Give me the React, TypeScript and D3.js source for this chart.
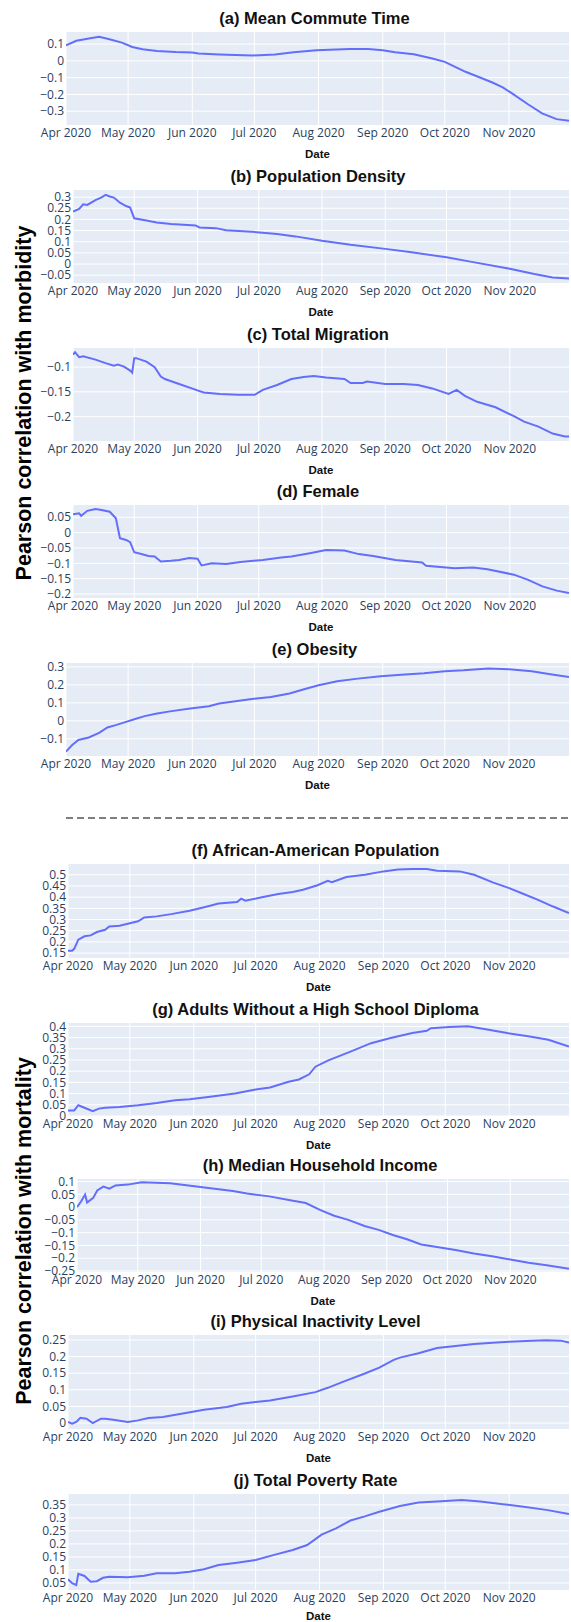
import * as d3 from 'd3'

// month ticks and the shared date range of every panel
const monthTicks = ['2020-04-01', '2020-05-01', '2020-06-01', '2020-07-01', '2020-08-01', '2020-09-01', '2020-10-01', '2020-11-01']
const dateRange = ['2020-04-01', '2020-11-30']

// (a) Mean Commute Time
const meanCommute: [string, number][] = [
  ['2020-04-01', 0.093], ['2020-04-06', 0.12], ['2020-04-12', 0.133], ['2020-04-17', 0.143], ['2020-04-22', 0.129],
  ['2020-04-28', 0.109], ['2020-05-03', 0.083], ['2020-05-08', 0.069], ['2020-05-15', 0.059], ['2020-05-24', 0.053],
  ['2020-06-01', 0.05], ['2020-06-04', 0.044], ['2020-06-14', 0.038], ['2020-06-30', 0.032], ['2020-07-11', 0.038],
  ['2020-07-20', 0.051], ['2020-07-31', 0.063], ['2020-08-16', 0.071], ['2020-08-25', 0.071], ['2020-09-01', 0.063],
  ['2020-09-07', 0.051], ['2020-09-16', 0.04], ['2020-09-25', 0.014], ['2020-10-01', -0.006], ['2020-10-06', -0.036],
  ['2020-10-11', -0.065], ['2020-10-18', -0.099], ['2020-10-24', -0.129], ['2020-10-29', -0.158], ['2020-11-03', -0.198],
  ['2020-11-10', -0.257], ['2020-11-17', -0.313], ['2020-11-24', -0.347], ['2020-11-30', -0.356]
]

// (b) Population Density
const popDensity: [string, number][] = [
  ['2020-04-01', 0.235], ['2020-04-04', 0.247], ['2020-04-06', 0.268], ['2020-04-08', 0.265], ['2020-04-12', 0.287],
  ['2020-04-15', 0.299], ['2020-04-17', 0.31], ['2020-04-19', 0.303], ['2020-04-21', 0.298], ['2020-04-24', 0.275],
  ['2020-04-27', 0.26], ['2020-04-29', 0.253], ['2020-05-01', 0.205], ['2020-05-07', 0.195], ['2020-05-12', 0.186],
  ['2020-05-19', 0.18], ['2020-05-31', 0.173], ['2020-06-02', 0.164], ['2020-06-10', 0.161], ['2020-06-15', 0.152],
  ['2020-06-30', 0.143], ['2020-07-10', 0.135], ['2020-07-19', 0.124], ['2020-08-01', 0.104], ['2020-08-15', 0.086],
  ['2020-09-01', 0.068], ['2020-09-13', 0.054], ['2020-10-01', 0.03], ['2020-10-12', 0.012], ['2020-11-01', -0.021],
  ['2020-11-13', -0.045], ['2020-11-22', -0.06], ['2020-11-30', -0.065]
]

// (c) Total Migration
const totalMigration: [string, number][] = [
  ['2020-04-01', -0.075], ['2020-04-02', -0.07], ['2020-04-04', -0.08], ['2020-04-06', -0.078], ['2020-04-12', -0.085],
  ['2020-04-17', -0.092], ['2020-04-21', -0.097], ['2020-04-23', -0.095], ['2020-04-26', -0.099], ['2020-04-29', -0.107],
  ['2020-04-30', -0.111], ['2020-05-01', -0.082], ['2020-05-02', -0.082], ['2020-05-07', -0.089], ['2020-05-11', -0.1],
  ['2020-05-14', -0.119], ['2020-05-16', -0.124], ['2020-05-23', -0.134], ['2020-06-01', -0.147], ['2020-06-04', -0.151],
  ['2020-06-12', -0.154], ['2020-06-21', -0.156], ['2020-06-29', -0.156], ['2020-07-03', -0.146], ['2020-07-10', -0.136],
  ['2020-07-17', -0.124], ['2020-07-23', -0.12], ['2020-07-28', -0.118], ['2020-08-03', -0.121], ['2020-08-12', -0.124],
  ['2020-08-15', -0.132], ['2020-08-21', -0.132], ['2020-08-23', -0.129], ['2020-09-01', -0.134], ['2020-09-10', -0.134],
  ['2020-09-17', -0.136], ['2020-09-24', -0.143], ['2020-10-02', -0.154], ['2020-10-06', -0.146], ['2020-10-10', -0.158],
  ['2020-10-16', -0.17], ['2020-10-25', -0.181], ['2020-11-03', -0.199], ['2020-11-08', -0.21], ['2020-11-15', -0.22],
  ['2020-11-22', -0.234], ['2020-11-28', -0.24], ['2020-11-30', -0.24]
]

// (d) Female
const female: [string, number][] = [
  ['2020-04-01', 0.06], ['2020-04-04', 0.063], ['2020-04-05', 0.055], ['2020-04-08', 0.071], ['2020-04-12', 0.077],
  ['2020-04-15', 0.074], ['2020-04-19', 0.068], ['2020-04-22', 0.047], ['2020-04-24', -0.018], ['2020-04-27', -0.024],
  ['2020-04-29', -0.031], ['2020-05-01', -0.064], ['2020-05-04', -0.069], ['2020-05-08', -0.076], ['2020-05-11', -0.078],
  ['2020-05-14', -0.094], ['2020-05-19', -0.092], ['2020-05-23', -0.089], ['2020-05-28', -0.083], ['2020-06-01', -0.085],
  ['2020-06-03', -0.107], ['2020-06-08', -0.1], ['2020-06-15', -0.102], ['2020-06-22', -0.096], ['2020-07-03', -0.089],
  ['2020-07-12', -0.081], ['2020-07-17', -0.078], ['2020-07-26', -0.067], ['2020-08-03', -0.057], ['2020-08-12', -0.058],
  ['2020-08-19', -0.07], ['2020-08-26', -0.076], ['2020-09-06', -0.089], ['2020-09-19', -0.097], ['2020-09-21', -0.108],
  ['2020-10-05', -0.116], ['2020-10-14', -0.114], ['2020-10-21', -0.119], ['2020-11-03', -0.137], ['2020-11-10', -0.154],
  ['2020-11-17', -0.175], ['2020-11-24', -0.189], ['2020-11-30', -0.197]
]

// (e) Obesity
const obesity: [string, number][] = [
  ['2020-04-01', -0.172], ['2020-04-04', -0.135], ['2020-04-07', -0.107], ['2020-04-12', -0.093], ['2020-04-17', -0.067],
  ['2020-04-21', -0.037], ['2020-04-25', -0.024], ['2020-04-30', -0.006], ['2020-05-04', 0.009], ['2020-05-09', 0.026],
  ['2020-05-15', 0.041], ['2020-05-22', 0.054], ['2020-05-31', 0.069], ['2020-06-09', 0.081], ['2020-06-14', 0.096],
  ['2020-06-28', 0.119], ['2020-07-09', 0.133], ['2020-07-18', 0.152], ['2020-07-25', 0.176], ['2020-08-01', 0.198],
  ['2020-08-10', 0.22], ['2020-08-20', 0.235], ['2020-08-31', 0.248], ['2020-09-10', 0.257], ['2020-09-21', 0.265],
  ['2020-10-01', 0.276], ['2020-10-10', 0.281], ['2020-10-22', 0.291], ['2020-11-01', 0.287], ['2020-11-12', 0.276],
  ['2020-11-21', 0.259], ['2020-11-30', 0.244]
]

// (f) African-American Population
const africanAmerican: [string, number][] = [
  ['2020-04-01', 0.16], ['2020-04-03', 0.16], ['2020-04-04', 0.169], ['2020-04-06', 0.21], ['2020-04-09', 0.225],
  ['2020-04-12', 0.229], ['2020-04-15', 0.244], ['2020-04-19', 0.254], ['2020-04-21', 0.269], ['2020-04-26', 0.272],
  ['2020-04-30', 0.281], ['2020-05-05', 0.292], ['2020-05-08', 0.309], ['2020-05-14', 0.314], ['2020-05-21', 0.324],
  ['2020-05-30', 0.339], ['2020-06-08', 0.359], ['2020-06-13', 0.371], ['2020-06-22', 0.378], ['2020-06-24', 0.393],
  ['2020-06-26', 0.384], ['2020-07-04', 0.399], ['2020-07-12', 0.414], ['2020-07-19', 0.423], ['2020-07-24', 0.433],
  ['2020-07-31', 0.453], ['2020-08-05', 0.473], ['2020-08-07', 0.467], ['2020-08-14', 0.49], ['2020-08-23', 0.5],
  ['2020-09-01', 0.515], ['2020-09-08', 0.523], ['2020-09-15', 0.526], ['2020-09-22', 0.526], ['2020-09-27', 0.518],
  ['2020-10-08', 0.515], ['2020-10-15', 0.5], ['2020-10-24', 0.466], ['2020-11-01', 0.44], ['2020-11-08', 0.414],
  ['2020-11-15', 0.388], ['2020-11-22', 0.359], ['2020-11-30', 0.329]
]

// (g) Adults Without a High School Diploma
const noDiploma: [string, number][] = [
  ['2020-04-01', 0.025], ['2020-04-04', 0.025], ['2020-04-06', 0.048], ['2020-04-09', 0.037], ['2020-04-13', 0.022],
  ['2020-04-16', 0.033], ['2020-04-19', 0.037], ['2020-04-26', 0.04], ['2020-05-05', 0.048], ['2020-05-14', 0.058],
  ['2020-05-23', 0.07], ['2020-05-30', 0.075], ['2020-06-08', 0.085], ['2020-06-21', 0.1], ['2020-07-01', 0.118],
  ['2020-07-08', 0.127], ['2020-07-17', 0.153], ['2020-07-22', 0.163], ['2020-07-27', 0.186], ['2020-07-30', 0.22],
  ['2020-08-05', 0.247], ['2020-08-16', 0.287], ['2020-08-26', 0.325], ['2020-09-04', 0.347], ['2020-09-15', 0.37],
  ['2020-09-22', 0.38], ['2020-09-24', 0.392], ['2020-10-03', 0.397], ['2020-10-12', 0.4], ['2020-10-22', 0.385],
  ['2020-10-31', 0.37], ['2020-11-11', 0.355], ['2020-11-20', 0.34], ['2020-11-30', 0.31]
]

// (h) Median Household Income
const medianIncome: [string, number][] = [
  ['2020-04-01', 0], ['2020-04-03', 0.022], ['2020-04-05', 0.049], ['2020-04-06', 0.018], ['2020-04-09', 0.036],
  ['2020-04-11', 0.065], ['2020-04-14', 0.08], ['2020-04-17', 0.072], ['2020-04-20', 0.085], ['2020-04-26', 0.088],
  ['2020-05-03', 0.097], ['2020-05-10', 0.095], ['2020-05-17', 0.093], ['2020-05-26', 0.085], ['2020-06-06', 0.074],
  ['2020-06-17', 0.063], ['2020-06-24', 0.053], ['2020-07-05', 0.042], ['2020-07-16', 0.026], ['2020-07-23', 0.016],
  ['2020-07-30', -0.011], ['2020-08-06', -0.034], ['2020-08-13', -0.05], ['2020-08-21', -0.074], ['2020-08-28', -0.089],
  ['2020-09-04', -0.109], ['2020-09-11', -0.126], ['2020-09-18', -0.146], ['2020-09-25', -0.155], ['2020-10-05', -0.168],
  ['2020-10-14', -0.182], ['2020-10-23', -0.192], ['2020-11-01', -0.205], ['2020-11-10', -0.218], ['2020-11-19', -0.228],
  ['2020-11-30', -0.241]
]

// (i) Physical Inactivity Level
const inactivity: [string, number][] = [
  ['2020-04-01', 0.003], ['2020-04-03', -0.002], ['2020-04-05', 0.003], ['2020-04-07', 0.016], ['2020-04-10', 0.013],
  ['2020-04-13', 0], ['2020-04-17', 0.013], ['2020-04-19', 0.013], ['2020-04-23', 0.01], ['2020-04-30', 0.003],
  ['2020-05-05', 0.008], ['2020-05-10', 0.015], ['2020-05-17', 0.018], ['2020-05-26', 0.028], ['2020-06-06', 0.04],
  ['2020-06-17', 0.048], ['2020-06-24', 0.058], ['2020-07-01', 0.063], ['2020-07-08', 0.068], ['2020-07-19', 0.08],
  ['2020-07-30', 0.093], ['2020-08-05', 0.106], ['2020-08-12', 0.123], ['2020-08-23', 0.149], ['2020-08-30', 0.167],
  ['2020-09-06', 0.19], ['2020-09-09', 0.197], ['2020-09-18', 0.21], ['2020-09-27', 0.226], ['2020-10-06', 0.232],
  ['2020-10-15', 0.238], ['2020-10-24', 0.242], ['2020-11-01', 0.245], ['2020-11-12', 0.248], ['2020-11-19', 0.249],
  ['2020-11-26', 0.248], ['2020-11-30', 0.242]
]

// (j) Total Poverty Rate
const povertyRate: [string, number][] = [
  ['2020-04-01', 0.064], ['2020-04-03', 0.049], ['2020-04-05', 0.042], ['2020-04-06', 0.085], ['2020-04-09', 0.077],
  ['2020-04-12', 0.055], ['2020-04-15', 0.057], ['2020-04-18', 0.07], ['2020-04-21', 0.074], ['2020-04-30', 0.072],
  ['2020-05-08', 0.078], ['2020-05-14', 0.087], ['2020-05-23', 0.087], ['2020-05-30', 0.093], ['2020-06-06', 0.103],
  ['2020-06-13', 0.119], ['2020-06-22', 0.128], ['2020-07-01', 0.138], ['2020-07-10', 0.158], ['2020-07-19', 0.177],
  ['2020-07-26', 0.196], ['2020-08-02', 0.236], ['2020-08-09', 0.26], ['2020-08-16', 0.29], ['2020-08-23', 0.306],
  ['2020-08-30', 0.324], ['2020-09-09', 0.346], ['2020-09-18', 0.359], ['2020-09-27', 0.363], ['2020-10-09', 0.369],
  ['2020-10-18', 0.363], ['2020-10-29', 0.353], ['2020-11-08', 0.343], ['2020-11-19', 0.331], ['2020-11-30', 0.315]
]

const titles = [
  '(a) Mean Commute Time', '(b) Population Density', '(c) Total Migration', '(d) Female', '(e) Obesity',
  '(f) African-American Population', '(g) Adults Without a High School Diploma', '(h) Median Household Income',
  '(i) Physical Inactivity Level', '(j) Total Poverty Rate'
]
const series = [meanCommute, popDensity, totalMigration, female, obesity, africanAmerican, noDiploma, medianIncome, inactivity, povertyRate]

const yDomains: [number, number][] = [
  [-0.382, 0.172], [-0.085, 0.332], [-0.249, -0.0615], [-0.213, 0.09], [-0.196, 0.322],
  [0.128, 0.548], [0, 0.415], [-0.254, 0.11], [-0.018, 0.265], [0.023, 0.392]
]
const yTicks: number[][] = [
  [0.1, 0, -0.1, -0.2, -0.3],
  [0.3, 0.25, 0.2, 0.15, 0.1, 0.05, 0, -0.05],
  [-0.1, -0.15, -0.2],
  [0.05, 0, -0.05, -0.1, -0.15, -0.2],
  [0.3, 0.2, 0.1, 0, -0.1],
  [0.5, 0.45, 0.4, 0.35, 0.3, 0.25, 0.2, 0.15],
  [0.4, 0.35, 0.3, 0.25, 0.2, 0.15, 0.1, 0.05, 0],
  [0.1, 0.05, 0, -0.05, -0.1, -0.15, -0.2, -0.25],
  [0.25, 0.2, 0.15, 0.1, 0.05, 0],
  [0.35, 0.3, 0.25, 0.2, 0.15, 0.1, 0.05]
]
const yTitles = ['Pearson correlation with morbidity', 'Pearson correlation with mortality']

// panel frames in page pixels
const frames = [
  { left: 66, top: 32, bottom: 125 },
  { left: 73, top: 190, bottom: 283 },
  { left: 73, top: 348, bottom: 441 },
  { left: 73, top: 505, bottom: 598 },
  { left: 66, top: 663, bottom: 756 },
  { left: 68, top: 864, bottom: 958 },
  { left: 68, top: 1023, bottom: 1116 },
  { left: 77, top: 1179, bottom: 1272 },
  { left: 68, top: 1335, bottom: 1429 },
  { left: 68, top: 1494, bottom: 1590 }
]
const RIGHT = 569
const W = 571
const H = 1622

const parse = d3.utcParse('%Y-%m-%d')
const fmtMonth = d3.utcFormat('%b %Y')
const fmtTick = d3.format('~g')

const tickFont = '"Open Sans", "DejaVu Sans", sans-serif'
const boldFont = '"Liberation Sans", Arial, sans-serif'

function Panel({ idx }: { idx: number }) {
  const { left, top, bottom } = frames[idx]
  const data = series[idx]
  const x = d3.scaleUtc().domain(dateRange.map(d => parse(d)!)).range([left, RIGHT])
  const y = d3.scaleLinear().domain(yDomains[idx]).range([bottom, top])
  const line = d3.line<[string, number]>()
    .x(d => x(parse(d[0])!))
    .y(d => y(d[1]))
  const cx = (left + RIGHT) / 2
  const clipId = `clip-${idx}`
  // last "Date" sits right on the page's bottom edge
  const dateY = Math.min(bottom + 29, H - 6)

  return (
    <g>
      <clipPath id={clipId}>
        <rect x={left} y={top} width={RIGHT - left} height={bottom - top} />
      </clipPath>
      <rect x={left} y={top} width={RIGHT - left} height={bottom - top} fill="#E5ECF6" />
      {monthTicks.map(m => (
        <line key={m} x1={x(parse(m)!)} x2={x(parse(m)!)} y1={top} y2={bottom} stroke="#fff" strokeWidth={1} />
      ))}
      {yTicks[idx].map(t => (
        <line key={t} x1={left} x2={RIGHT} y1={y(t)} y2={y(t)} stroke="#fff" strokeWidth={1} />
      ))}
      <path d={line(data) ?? ''} fill="none" stroke="#636efa" strokeWidth={2} clipPath={`url(#${clipId})`} />
      {yTicks[idx].map(t => (
        <text key={t} x={left - 2} y={y(t)} dy="0.35em" textAnchor="end"
          fontFamily={tickFont} fontSize={12} fill="#2a3f5f">{fmtTick(t)}</text>
      ))}
      {monthTicks.map(m => (
        <text key={m} x={x(parse(m)!)} y={bottom + 8} dy="0.35em" textAnchor="middle"
          fontFamily={tickFont} fontSize={12} fill="#2a3f5f">{fmtMonth(parse(m)!)}</text>
      ))}
      <text x={cx} y={dateY} dy="0.35em" textAnchor="middle" fontFamily={boldFont}
        fontWeight="bold" fontSize={11.5} fill="#111">Date</text>
      <text x={cx - 3} y={top - 13.5} dy="0.35em" textAnchor="middle" fontFamily={boldFont}
        fontWeight="bold" fontSize={16.5} fill="#111">{titles[idx]}</text>
    </g>
  )
}

export default function App() {
  const sepY = 818
  return (
    <svg width={W} height={H} viewBox={`0 0 ${W} ${H}`}
      style={{ position: 'absolute', left: 0, top: 0, background: '#fff' }}>
      <rect x={0} y={0} width={W} height={H} fill="#fff" />
      {titles.map((_, i) => <Panel key={i} idx={i} />)}
      <line x1={frames[0].left} x2={W} y1={sepY} y2={sepY} stroke="#555" strokeWidth={1.5} strokeDasharray="7,4" />
      <text transform={`translate(23, 403) rotate(-90)`} dy="0.35em" textAnchor="middle"
        fontFamily={boldFont} fontWeight="bold" fontSize={21.5} fill="#000">{yTitles[0]}</text>
      <text transform={`translate(23, 1231) rotate(-90)`} dy="0.35em" textAnchor="middle"
        fontFamily={boldFont} fontWeight="bold" fontSize={21.5} fill="#000">{yTitles[1]}</text>
    </svg>
  )
}
